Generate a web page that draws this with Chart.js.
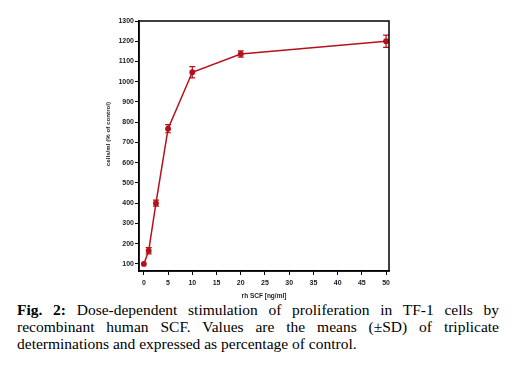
<!DOCTYPE html>
<html>
<head>
<meta charset="utf-8">
<script src="https://cdn.jsdelivr.net/npm/chart.js@4.4.1/dist/chart.umd.min.js"></script>
<style>
  html, body { margin: 0; padding: 0; background: #fff; }
  body { width: 516px; height: 367px; position: relative; overflow: hidden; }
  #wrap { position: absolute; left: 0; top: 0; width: 516px; height: 300px; }
  #caption {
    position: absolute; left: 17px; top: 301px; width: 482px;
    font-family: 'Liberation Serif', 'DejaVu Serif', serif;
    font-size: 15.5px; line-height: 17px; text-align: justify; color: #000;
  }
</style>
</head>
<body>
<div id="wrap"><canvas id="c" width="516" height="300"></canvas></div>
<div id="caption"><b>Fig. 2:</b> Dose-dependent stimulation of proliferation in TF-1 cells by recombinant human SCF. Values are the means (±SD) of triplicate determinations and expressed as percentage of control.</div>
<script>
const doses = [0, 1, 2.5, 5, 10, 20, 50];
const meanValues = [100, 165, 400, 768, 1047, 1137, 1200];
const sdValues = [0, 15, 15, 20, 28, 15, 30];
const xTicks = [0, 5, 10, 15, 20, 25, 30, 35, 40, 45, 50];
const yTicks = [100, 200, 300, 400, 500, 600, 700, 800, 900, 1000, 1100, 1200, 1300];
const xTitle = 'rh SCF [ng/ml]';
const yTitle = 'cells/ml (% of control)';

const RED = '#b5121b';
const INK = '#1a1a2a';

const errorBars = {
  id: 'errorBars',
  afterDatasetsDraw(chart) {
    const ctx = chart.ctx, xs = chart.scales.x, ys = chart.scales.y;
    ctx.save();
    ctx.strokeStyle = RED;
    ctx.lineWidth = 1.2;
    doses.forEach((d, i) => {
      const sd = sdValues[i];
      if (!sd) return;
      const px = xs.getPixelForValue(d);
      const top = ys.getPixelForValue(meanValues[i] + sd);
      const bot = ys.getPixelForValue(meanValues[i] - sd);
      ctx.beginPath();
      ctx.moveTo(px, top); ctx.lineTo(px, bot);
      ctx.moveTo(px - 3, top); ctx.lineTo(px + 3, top);
      ctx.moveTo(px - 3, bot); ctx.lineTo(px + 3, bot);
      ctx.stroke();
    });
    ctx.restore();
  }
};

const boxPlugin = {
  id: 'box',
  afterDraw(chart) {
    const a = chart.chartArea, ctx = chart.ctx;
    ctx.save();
    ctx.strokeStyle = '#000';
    ctx.lineWidth = 1.5;
    ctx.strokeRect(a.left, a.top, a.right - a.left, a.bottom - a.top);
    // y axis title, placed a little above the axis centre as in the original
    ctx.translate(a.left - 31, (a.top + a.bottom) / 2 - 12);
    ctx.rotate(-Math.PI / 2);
    ctx.fillStyle = INK;
    ctx.font = 'bold 6.2px "Liberation Sans", Arial, sans-serif';
    ctx.textAlign = 'center';
    ctx.textBaseline = 'middle';
    ctx.fillText(yTitle, 0, 0);
    ctx.restore();
  }
};

const tickFont = { family: '"Liberation Sans", Arial, sans-serif', size: 7, weight: 'bold' };
const titleFont = { family: '"Liberation Sans", Arial, sans-serif', size: 6.5, weight: 'bold' };

new Chart(document.getElementById('c'), {
  type: 'line',
  data: {
    datasets: [{
      data: doses.map((d, i) => ({ x: d, y: meanValues[i] })),
      borderColor: RED,
      backgroundColor: RED,
      borderWidth: 1.5,
      pointRadius: 2.2,
      pointBackgroundColor: RED,
      pointBorderColor: RED,
      tension: 0
    }]
  },
  options: {
    responsive: false,
    animation: false,
    devicePixelRatio: 1,
    layout: { padding: { left: 101, right: 127, top: 21, bottom: 0 } },
    plugins: { legend: { display: false }, tooltip: { enabled: false } },
    scales: {
      x: {
        type: 'linear', min: -1, max: 50.6,
        afterBuildTicks(s) { s.ticks = xTicks.map(v => ({ value: v })); },
        afterFit(s) { s.height = 29; },
        grid: { drawOnChartArea: false, drawTicks: true, tickLength: 4, color: '#000', lineWidth: 1 },
        border: { display: true, color: '#000', width: 1.5 },
        ticks: { font: tickFont, color: INK, padding: 4, maxRotation: 0, callback: v => String(v) },
        title: { display: true, text: xTitle, font: titleFont, color: INK, padding: { top: 2, bottom: 0 } }
      },
      y: {
        type: 'linear', min: 65, max: 1300,
        afterBuildTicks(s) { s.ticks = yTicks.map(v => ({ value: v })); },
        afterFit(s) { s.width = 38; },
        grid: { drawOnChartArea: false, drawTicks: true, tickLength: 4, color: '#000', lineWidth: 1 },
        border: { display: true, color: '#000', width: 1.5 },
        ticks: { font: tickFont, color: INK, padding: 1, callback: v => String(v) },
        title: { display: false }
      }
    }
  },
  plugins: [errorBars, boxPlugin]
});
</script>
</body>
</html>
